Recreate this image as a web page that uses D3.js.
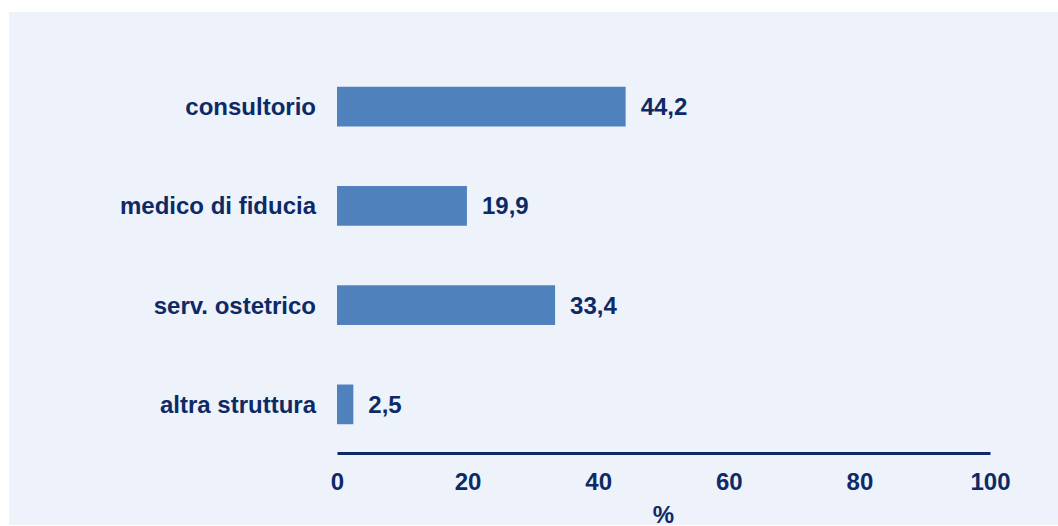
<!DOCTYPE html>
<html>
<head>
<meta charset="utf-8">
<script src="https://cdn.jsdelivr.net/npm/d3@7"></script>
<style>
  body { margin: 0; background: #ffffff; }
  svg { display: block; }
  text { font-family: "Liberation Sans", Arial, sans-serif; font-weight: bold; fill: #0d2a66; }
</style>
</head>
<body>
<svg id="chart" width="1058" height="526"></svg>
<script>
// data
const categories = ["consultorio", "medico di fiducia", "serv. ostetrico", "altra struttura"];
const values = [44.2, 19.9, 33.4, 2.5];
const xTicks = [0, 20, 40, 60, 80, 100];
const axisTitle = "%";

const svg = d3.select("#chart");
const width = 1058, height = 526;
const margin = { left: 337, right: 68 };
const fontSize = 24;

svg.append("rect")
  .attr("x", 9)
  .attr("y", 12)
  .attr("width", width - 9)
  .attr("height", 513)
  .attr("fill", "#eef2fa");

const x = d3.scaleLinear()
  .domain([0, 100])
  .range([margin.left, width - margin.right]);

const y = d3.scaleBand()
  .domain(categories)
  .range([57, 454])
  .paddingInner(0.6)
  .paddingOuter(0.3);

const fmt = v => v.toFixed(1).replace(".", ",");

// bars
svg.append("g")
  .selectAll("rect")
  .data(values)
  .join("rect")
  .attr("x", x(0))
  .attr("y", (d, i) => y(categories[i]))
  .attr("width", d => x(d) - x(0))
  .attr("height", y.bandwidth())
  .attr("fill", "#4f81bd");

// value labels
svg.append("g")
  .selectAll("text")
  .data(values)
  .join("text")
  .attr("x", d => x(d) + 15)
  .attr("y", (d, i) => y(categories[i]) + y.bandwidth() / 2)
  .attr("dy", "0.35em")
  .attr("font-size", fontSize)
  .text(fmt);

// category labels
svg.append("g")
  .selectAll("text")
  .data(categories)
  .join("text")
  .attr("x", x(0) - 21)
  .attr("y", d => y(d) + y.bandwidth() / 2)
  .attr("dy", "0.35em")
  .attr("text-anchor", "end")
  .attr("font-size", fontSize)
  .text(d => d);

// x axis
const axisY = 453;
const xAxis = svg.append("g")
  .attr("transform", `translate(0,${axisY})`)
  .call(d3.axisBottom(x).tickValues(xTicks).tickSize(0).tickPadding(20));
xAxis.select(".domain").attr("stroke", "#0d2a66").attr("stroke-width", 3);
xAxis.selectAll(".tick text")
  .attr("font-size", fontSize)
  .attr("font-family", "Liberation Sans, Arial, sans-serif")
  .attr("font-weight", "bold")
  .attr("fill", "#0d2a66");

svg.append("text")
  .attr("x", (x(0) + x(100)) / 2)
  .attr("y", 523)
  .attr("text-anchor", "middle")
  .attr("font-size", fontSize)
  .text(axisTitle);
</script>
</body>
</html>
